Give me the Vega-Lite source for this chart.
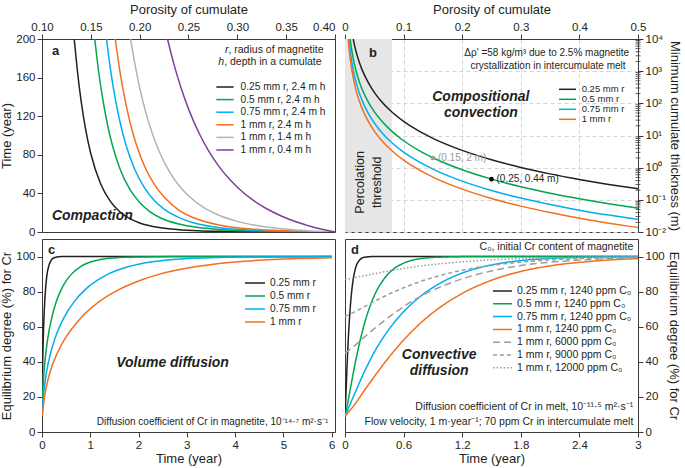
{
  "$schema": "https://vega.github.io/schema/vega-lite/v6.json",
  "background": "white",
  "padding": {"left": 0, "top": 2, "right": 1, "bottom": 2},
  "bounds": "flush",
  "columns": 2,
  "spacing": {"row": 7, "column": 10},
  "resolve": {"scale": {"color": "independent", "strokeDash": "independent"}, "legend": {"color": "independent", "strokeDash": "independent"}},
  "config": {
    "font": "Liberation Sans",
    "view": {"stroke": "#3c3c3c", "strokeWidth": 1},
    "axis": {
      "labelFontSize": 11.5, "titleFontSize": 13, "titleFontWeight": "normal",
      "labelFlush": false, "labelOverlap": false, "labelBound": false, "tickSize": 5, "labelPadding": 2,
      "titlePadding": 3, "domainColor": "#3c3c3c", "tickColor": "#3c3c3c",
      "labelColor": "#231f20", "titleColor": "#231f20", "grid": false
    },
    "legend": {"padding": 0, "labelFont": "Liberation Sans", "labelColor": "#231f20", "symbolType": "M-2,0H2", "title": null}
  },
  "datasets": {
    "a": [
      {"s": "0.25 mm r, 2.4 m h", "x": 0.133, "y": 200}, {"s": "0.25 mm r, 2.4 m h", "x": 0.136, "y": 169.2}, {"s": "0.25 mm r, 2.4 m h", "x": 0.14, "y": 136.1}, {"s": "0.25 mm r, 2.4 m h", "x": 0.145, "y": 104.6}, {"s": "0.25 mm r, 2.4 m h", "x": 0.15, "y": 81.1}, {"s": "0.25 mm r, 2.4 m h", "x": 0.16, "y": 50}, {"s": "0.25 mm r, 2.4 m h", "x": 0.17, "y": 31.7}, {"s": "0.25 mm r, 2.4 m h", "x": 0.18, "y": 20.7}, {"s": "0.25 mm r, 2.4 m h", "x": 0.19, "y": 13.8}, {"s": "0.25 mm r, 2.4 m h", "x": 0.2, "y": 9.4}, {"s": "0.25 mm r, 2.4 m h", "x": 0.22, "y": 4.6}, {"s": "0.25 mm r, 2.4 m h", "x": 0.24, "y": 2.4}, {"s": "0.25 mm r, 2.4 m h", "x": 0.26, "y": 1.3}, {"s": "0.25 mm r, 2.4 m h", "x": 0.28, "y": 0.75}, {"s": "0.25 mm r, 2.4 m h", "x": 0.3, "y": 0.45}, {"s": "0.25 mm r, 2.4 m h", "x": 0.33, "y": 0.22}, {"s": "0.25 mm r, 2.4 m h", "x": 0.36, "y": 0.11}, {"s": "0.25 mm r, 2.4 m h", "x": 0.4, "y": 0},
      {"s": "0.5 mm r, 2.4 m h", "x": 0.154, "y": 200}, {"s": "0.5 mm r, 2.4 m h", "x": 0.158, "y": 166.3}, {"s": "0.5 mm r, 2.4 m h", "x": 0.162, "y": 138.9}, {"s": "0.5 mm r, 2.4 m h", "x": 0.167, "y": 111.6}, {"s": "0.5 mm r, 2.4 m h", "x": 0.172, "y": 90.2}, {"s": "0.5 mm r, 2.4 m h", "x": 0.18, "y": 65.1}, {"s": "0.5 mm r, 2.4 m h", "x": 0.19, "y": 44.1}, {"s": "0.5 mm r, 2.4 m h", "x": 0.2, "y": 30.5}, {"s": "0.5 mm r, 2.4 m h", "x": 0.21, "y": 21.4}, {"s": "0.5 mm r, 2.4 m h", "x": 0.22, "y": 15.3}, {"s": "0.5 mm r, 2.4 m h", "x": 0.24, "y": 8.2}, {"s": "0.5 mm r, 2.4 m h", "x": 0.26, "y": 4.6}, {"s": "0.5 mm r, 2.4 m h", "x": 0.28, "y": 2.7}, {"s": "0.5 mm r, 2.4 m h", "x": 0.3, "y": 1.6}, {"s": "0.5 mm r, 2.4 m h", "x": 0.33, "y": 0.8}, {"s": "0.5 mm r, 2.4 m h", "x": 0.36, "y": 0.3}, {"s": "0.5 mm r, 2.4 m h", "x": 0.4, "y": 0},
      {"s": "0.75 mm r, 2.4 m h", "x": 0.166, "y": 200}, {"s": "0.75 mm r, 2.4 m h", "x": 0.17, "y": 169.3}, {"s": "0.75 mm r, 2.4 m h", "x": 0.175, "y": 138.2}, {"s": "0.75 mm r, 2.4 m h", "x": 0.18, "y": 113.5}, {"s": "0.75 mm r, 2.4 m h", "x": 0.186, "y": 90.2}, {"s": "0.75 mm r, 2.4 m h", "x": 0.195, "y": 64.8}, {"s": "0.75 mm r, 2.4 m h", "x": 0.205, "y": 45.7}, {"s": "0.75 mm r, 2.4 m h", "x": 0.215, "y": 32.7}, {"s": "0.75 mm r, 2.4 m h", "x": 0.225, "y": 23.8}, {"s": "0.75 mm r, 2.4 m h", "x": 0.24, "y": 15.1}, {"s": "0.75 mm r, 2.4 m h", "x": 0.26, "y": 8.2}, {"s": "0.75 mm r, 2.4 m h", "x": 0.28, "y": 4.7}, {"s": "0.75 mm r, 2.4 m h", "x": 0.3, "y": 2.8}, {"s": "0.75 mm r, 2.4 m h", "x": 0.33, "y": 1.2}, {"s": "0.75 mm r, 2.4 m h", "x": 0.36, "y": 0.5}, {"s": "0.75 mm r, 2.4 m h", "x": 0.4, "y": 0},
      {"s": "1 mm r, 2.4 m h", "x": 0.175, "y": 200}, {"s": "1 mm r, 2.4 m h", "x": 0.18, "y": 165.1}, {"s": "1 mm r, 2.4 m h", "x": 0.185, "y": 137.1}, {"s": "1 mm r, 2.4 m h", "x": 0.19, "y": 114.3}, {"s": "1 mm r, 2.4 m h", "x": 0.196, "y": 92.5}, {"s": "1 mm r, 2.4 m h", "x": 0.205, "y": 68.2}, {"s": "1 mm r, 2.4 m h", "x": 0.215, "y": 49.3}, {"s": "1 mm r, 2.4 m h", "x": 0.225, "y": 36.2}, {"s": "1 mm r, 2.4 m h", "x": 0.24, "y": 22.7}, {"s": "1 mm r, 2.4 m h", "x": 0.26, "y": 12.9}, {"s": "1 mm r, 2.4 m h", "x": 0.28, "y": 7.5}, {"s": "1 mm r, 2.4 m h", "x": 0.3, "y": 4.4}, {"s": "1 mm r, 2.4 m h", "x": 0.33, "y": 2.0}, {"s": "1 mm r, 2.4 m h", "x": 0.36, "y": 0.8}, {"s": "1 mm r, 2.4 m h", "x": 0.38, "y": 0.3}, {"s": "1 mm r, 2.4 m h", "x": 0.4, "y": 0},
      {"s": "1 mm r, 1.4 m h", "x": 0.1907, "y": 200}, {"s": "1 mm r, 1.4 m h", "x": 0.195, "y": 174.7}, {"s": "1 mm r, 1.4 m h", "x": 0.2, "y": 149.7}, {"s": "1 mm r, 1.4 m h", "x": 0.206, "y": 125}, {"s": "1 mm r, 1.4 m h", "x": 0.213, "y": 101.9}, {"s": "1 mm r, 1.4 m h", "x": 0.22, "y": 83.5}, {"s": "1 mm r, 1.4 m h", "x": 0.23, "y": 63.4}, {"s": "1 mm r, 1.4 m h", "x": 0.24, "y": 48.5}, {"s": "1 mm r, 1.4 m h", "x": 0.25, "y": 37.5}, {"s": "1 mm r, 1.4 m h", "x": 0.265, "y": 25.7}, {"s": "1 mm r, 1.4 m h", "x": 0.28, "y": 17.9}, {"s": "1 mm r, 1.4 m h", "x": 0.3, "y": 11}, {"s": "1 mm r, 1.4 m h", "x": 0.32, "y": 6.7}, {"s": "1 mm r, 1.4 m h", "x": 0.34, "y": 3.9}, {"s": "1 mm r, 1.4 m h", "x": 0.36, "y": 2.1}, {"s": "1 mm r, 1.4 m h", "x": 0.38, "y": 0.86}, {"s": "1 mm r, 1.4 m h", "x": 0.4, "y": 0},
      {"s": "1 mm r, 0.4 m h", "x": 0.2285, "y": 200}, {"s": "1 mm r, 0.4 m h", "x": 0.235, "y": 174.2}, {"s": "1 mm r, 0.4 m h", "x": 0.242, "y": 150.5}, {"s": "1 mm r, 0.4 m h", "x": 0.25, "y": 127.6}, {"s": "1 mm r, 0.4 m h", "x": 0.26, "y": 104.1}, {"s": "1 mm r, 0.4 m h", "x": 0.27, "y": 85.1}, {"s": "1 mm r, 0.4 m h", "x": 0.28, "y": 69.6}, {"s": "1 mm r, 0.4 m h", "x": 0.29, "y": 56.9}, {"s": "1 mm r, 0.4 m h", "x": 0.3, "y": 46.4}, {"s": "1 mm r, 0.4 m h", "x": 0.315, "y": 33.8}, {"s": "1 mm r, 0.4 m h", "x": 0.33, "y": 24.1}, {"s": "1 mm r, 0.4 m h", "x": 0.345, "y": 16.6}, {"s": "1 mm r, 0.4 m h", "x": 0.36, "y": 10.6}, {"s": "1 mm r, 0.4 m h", "x": 0.37, "y": 7.4}, {"s": "1 mm r, 0.4 m h", "x": 0.38, "y": 4.5}, {"s": "1 mm r, 0.4 m h", "x": 0.39, "y": 2.1}, {"s": "1 mm r, 0.4 m h", "x": 0.4, "y": 0}
    ],
    "b": [
      {"s": "0.25 mm r", "x": 0.01401, "y": 10000}, {"s": "0.25 mm r", "x": 0.016, "y": 6714}, {"s": "0.25 mm r", "x": 0.02, "y": 3438}, {"s": "0.25 mm r", "x": 0.025, "y": 1760}, {"s": "0.25 mm r", "x": 0.03, "y": 1018.5}, {"s": "0.25 mm r", "x": 0.04, "y": 429.7}, {"s": "0.25 mm r", "x": 0.05, "y": 220}, {"s": "0.25 mm r", "x": 0.06, "y": 127.3}, {"s": "0.25 mm r", "x": 0.08, "y": 53.7}, {"s": "0.25 mm r", "x": 0.1, "y": 27.5}, {"s": "0.25 mm r", "x": 0.125, "y": 14.08}, {"s": "0.25 mm r", "x": 0.15, "y": 8.148}, {"s": "0.25 mm r", "x": 0.2, "y": 3.4375}, {"s": "0.25 mm r", "x": 0.25, "y": 1.76}, {"s": "0.25 mm r", "x": 0.3, "y": 1.0185}, {"s": "0.25 mm r", "x": 0.35, "y": 0.6414}, {"s": "0.25 mm r", "x": 0.4, "y": 0.4297}, {"s": "0.25 mm r", "x": 0.45, "y": 0.3018}, {"s": "0.25 mm r", "x": 0.5, "y": 0.22},
      {"s": "0.5 mm r", "x": 0.00883, "y": 10000}, {"s": "0.5 mm r", "x": 0.01, "y": 6875}, {"s": "0.5 mm r", "x": 0.012, "y": 3979}, {"s": "0.5 mm r", "x": 0.016, "y": 1678.5}, {"s": "0.5 mm r", "x": 0.02, "y": 859.4}, {"s": "0.5 mm r", "x": 0.025, "y": 440}, {"s": "0.5 mm r", "x": 0.03, "y": 254.6}, {"s": "0.5 mm r", "x": 0.04, "y": 107.4}, {"s": "0.5 mm r", "x": 0.05, "y": 55}, {"s": "0.5 mm r", "x": 0.06, "y": 31.83}, {"s": "0.5 mm r", "x": 0.08, "y": 13.43}, {"s": "0.5 mm r", "x": 0.1, "y": 6.875}, {"s": "0.5 mm r", "x": 0.125, "y": 3.52}, {"s": "0.5 mm r", "x": 0.15, "y": 2.037}, {"s": "0.5 mm r", "x": 0.2, "y": 0.859}, {"s": "0.5 mm r", "x": 0.25, "y": 0.44}, {"s": "0.5 mm r", "x": 0.3, "y": 0.2546}, {"s": "0.5 mm r", "x": 0.35, "y": 0.1603}, {"s": "0.5 mm r", "x": 0.4, "y": 0.1074}, {"s": "0.5 mm r", "x": 0.45, "y": 0.0754}, {"s": "0.5 mm r", "x": 0.5, "y": 0.055},
      {"s": "0.75 mm r", "x": 0.00674, "y": 10000}, {"s": "0.75 mm r", "x": 0.008, "y": 5969}, {"s": "0.75 mm r", "x": 0.01, "y": 3056}, {"s": "0.75 mm r", "x": 0.012, "y": 1768.5}, {"s": "0.75 mm r", "x": 0.016, "y": 746}, {"s": "0.75 mm r", "x": 0.02, "y": 382}, {"s": "0.75 mm r", "x": 0.025, "y": 195.6}, {"s": "0.75 mm r", "x": 0.03, "y": 113.2}, {"s": "0.75 mm r", "x": 0.04, "y": 47.75}, {"s": "0.75 mm r", "x": 0.05, "y": 24.45}, {"s": "0.75 mm r", "x": 0.06, "y": 14.15}, {"s": "0.75 mm r", "x": 0.08, "y": 5.969}, {"s": "0.75 mm r", "x": 0.1, "y": 3.056}, {"s": "0.75 mm r", "x": 0.125, "y": 1.565}, {"s": "0.75 mm r", "x": 0.15, "y": 0.9055}, {"s": "0.75 mm r", "x": 0.2, "y": 0.382}, {"s": "0.75 mm r", "x": 0.25, "y": 0.1956}, {"s": "0.75 mm r", "x": 0.3, "y": 0.1132}, {"s": "0.75 mm r", "x": 0.35, "y": 0.0713}, {"s": "0.75 mm r", "x": 0.4, "y": 0.04775}, {"s": "0.75 mm r", "x": 0.45, "y": 0.03354}, {"s": "0.75 mm r", "x": 0.5, "y": 0.02445},
      {"s": "1 mm r", "x": 0.00556, "y": 10000}, {"s": "1 mm r", "x": 0.007, "y": 5012}, {"s": "1 mm r", "x": 0.008, "y": 3357}, {"s": "1 mm r", "x": 0.01, "y": 1719}, {"s": "1 mm r", "x": 0.012, "y": 994.8}, {"s": "1 mm r", "x": 0.016, "y": 419.7}, {"s": "1 mm r", "x": 0.02, "y": 214.9}, {"s": "1 mm r", "x": 0.025, "y": 110}, {"s": "1 mm r", "x": 0.03, "y": 63.67}, {"s": "1 mm r", "x": 0.04, "y": 26.86}, {"s": "1 mm r", "x": 0.05, "y": 13.75}, {"s": "1 mm r", "x": 0.06, "y": 7.958}, {"s": "1 mm r", "x": 0.08, "y": 3.357}, {"s": "1 mm r", "x": 0.1, "y": 1.719}, {"s": "1 mm r", "x": 0.125, "y": 0.88}, {"s": "1 mm r", "x": 0.15, "y": 0.5093}, {"s": "1 mm r", "x": 0.2, "y": 0.2149}, {"s": "1 mm r", "x": 0.25, "y": 0.11}, {"s": "1 mm r", "x": 0.3, "y": 0.0637}, {"s": "1 mm r", "x": 0.35, "y": 0.0401}, {"s": "1 mm r", "x": 0.4, "y": 0.02686}, {"s": "1 mm r", "x": 0.45, "y": 0.01886}, {"s": "1 mm r", "x": 0.5, "y": 0.01375}
    ],
    "minor": [
      {"v": 0.02}, {"v": 0.03}, {"v": 0.04}, {"v": 0.05}, {"v": 0.06}, {"v": 0.07}, {"v": 0.08}, {"v": 0.09},
      {"v": 0.2}, {"v": 0.3}, {"v": 0.4}, {"v": 0.5}, {"v": 0.6}, {"v": 0.7}, {"v": 0.8}, {"v": 0.9},
      {"v": 2}, {"v": 3}, {"v": 4}, {"v": 5}, {"v": 6}, {"v": 7}, {"v": 8}, {"v": 9},
      {"v": 20}, {"v": 30}, {"v": 40}, {"v": 50}, {"v": 60}, {"v": 70}, {"v": 80}, {"v": 90},
      {"v": 200}, {"v": 300}, {"v": 400}, {"v": 500}, {"v": 600}, {"v": 700}, {"v": 800}, {"v": 900},
      {"v": 2000}, {"v": 3000}, {"v": 4000}, {"v": 5000}, {"v": 6000}, {"v": 7000}, {"v": 8000}, {"v": 9000}
    ],
    "bpts": [
      {"x": 0.15, "y": 2, "label": "(0.15, 2 m)", "grp": "gray"},
      {"x": 0.25, "y": 0.44, "label": "(0.25, 0.44 m)", "grp": "black"}
    ],
    "perc": [{"lo": 0, "hi": 0.08}],
    "c": [
      {"s": "0.25 mm r", "x": 0.01, "y": 33.5}, {"s": "0.25 mm r", "x": 0.02, "y": 47}, {"s": "0.25 mm r", "x": 0.03, "y": 57}, {"s": "0.25 mm r", "x": 0.05, "y": 71}, {"s": "0.25 mm r", "x": 0.075, "y": 82}, {"s": "0.25 mm r", "x": 0.1, "y": 89}, {"s": "0.25 mm r", "x": 0.15, "y": 95.5}, {"s": "0.25 mm r", "x": 0.2, "y": 98.3}, {"s": "0.25 mm r", "x": 0.25, "y": 99.3}, {"s": "0.25 mm r", "x": 0.3, "y": 99.7}, {"s": "0.25 mm r", "x": 0.4, "y": 100}, {"s": "0.25 mm r", "x": 6, "y": 100},
      {"s": "0.5 mm r", "x": 0.01, "y": 17.6}, {"s": "0.5 mm r", "x": 0.02, "y": 24.4}, {"s": "0.5 mm r", "x": 0.04, "y": 33.5}, {"s": "0.5 mm r", "x": 0.08, "y": 45.2}, {"s": "0.5 mm r", "x": 0.12, "y": 53.4}, {"s": "0.5 mm r", "x": 0.2, "y": 64.9}, {"s": "0.5 mm r", "x": 0.3, "y": 74.6}, {"s": "0.5 mm r", "x": 0.4, "y": 81.3}, {"s": "0.5 mm r", "x": 0.5, "y": 86.1}, {"s": "0.5 mm r", "x": 0.6, "y": 89.7}, {"s": "0.5 mm r", "x": 0.8, "y": 94.3}, {"s": "0.5 mm r", "x": 1, "y": 96.9}, {"s": "0.5 mm r", "x": 1.2, "y": 98.3}, {"s": "0.5 mm r", "x": 1.6, "y": 99.5}, {"s": "0.5 mm r", "x": 2, "y": 99.8}, {"s": "0.5 mm r", "x": 2.4, "y": 99.95}, {"s": "0.5 mm r", "x": 3, "y": 100}, {"s": "0.5 mm r", "x": 6, "y": 100},
      {"s": "0.75 mm r", "x": 0.01, "y": 12.0}, {"s": "0.75 mm r", "x": 0.02, "y": 16.7}, {"s": "0.75 mm r", "x": 0.045, "y": 24.4}, {"s": "0.75 mm r", "x": 0.09, "y": 33.5}, {"s": "0.75 mm r", "x": 0.18, "y": 45.2}, {"s": "0.75 mm r", "x": 0.27, "y": 53.4}, {"s": "0.75 mm r", "x": 0.45, "y": 64.9}, {"s": "0.75 mm r", "x": 0.675, "y": 74.6}, {"s": "0.75 mm r", "x": 0.9, "y": 81.3}, {"s": "0.75 mm r", "x": 1.125, "y": 86.1}, {"s": "0.75 mm r", "x": 1.35, "y": 89.7}, {"s": "0.75 mm r", "x": 1.8, "y": 94.3}, {"s": "0.75 mm r", "x": 2.25, "y": 96.9}, {"s": "0.75 mm r", "x": 2.7, "y": 98.3}, {"s": "0.75 mm r", "x": 3.6, "y": 99.5}, {"s": "0.75 mm r", "x": 4.5, "y": 99.8}, {"s": "0.75 mm r", "x": 5.4, "y": 99.95}, {"s": "0.75 mm r", "x": 6, "y": 99.98},
      {"s": "1 mm r", "x": 0.01, "y": 9.0}, {"s": "1 mm r", "x": 0.02, "y": 12.7}, {"s": "1 mm r", "x": 0.04, "y": 17.6}, {"s": "1 mm r", "x": 0.08, "y": 24.4}, {"s": "1 mm r", "x": 0.16, "y": 33.5}, {"s": "1 mm r", "x": 0.32, "y": 45.2}, {"s": "1 mm r", "x": 0.48, "y": 53.4}, {"s": "1 mm r", "x": 0.8, "y": 64.9}, {"s": "1 mm r", "x": 1.2, "y": 74.6}, {"s": "1 mm r", "x": 1.6, "y": 81.3}, {"s": "1 mm r", "x": 2, "y": 86.1}, {"s": "1 mm r", "x": 2.4, "y": 89.7}, {"s": "1 mm r", "x": 3.2, "y": 94.3}, {"s": "1 mm r", "x": 4, "y": 96.9}, {"s": "1 mm r", "x": 4.8, "y": 98.3}, {"s": "1 mm r", "x": 6, "y": 99.3}
    ],
    "d": [
      {"s": "0.25 mm r, 1240 ppm C₀", "x": 0, "y": 9}, {"s": "0.25 mm r, 1240 ppm C₀", "x": 0.01, "y": 22.2}, {"s": "0.25 mm r, 1240 ppm C₀", "x": 0.02, "y": 36.3}, {"s": "0.25 mm r, 1240 ppm C₀", "x": 0.035, "y": 54.3}, {"s": "0.25 mm r, 1240 ppm C₀", "x": 0.05, "y": 68.1}, {"s": "0.25 mm r, 1240 ppm C₀", "x": 0.075, "y": 83.3}, {"s": "0.25 mm r, 1240 ppm C₀", "x": 0.1, "y": 91.6}, {"s": "0.25 mm r, 1240 ppm C₀", "x": 0.15, "y": 98}, {"s": "0.25 mm r, 1240 ppm C₀", "x": 0.2, "y": 99.6}, {"s": "0.25 mm r, 1240 ppm C₀", "x": 0.3, "y": 100}, {"s": "0.25 mm r, 1240 ppm C₀", "x": 3, "y": 100},
      {"s": "0.5 mm r, 1240 ppm C₀", "x": 0, "y": 9}, {"s": "0.5 mm r, 1240 ppm C₀", "x": 0.025, "y": 15.6}, {"s": "0.5 mm r, 1240 ppm C₀", "x": 0.05, "y": 23.2}, {"s": "0.5 mm r, 1240 ppm C₀", "x": 0.1, "y": 38}, {"s": "0.5 mm r, 1240 ppm C₀", "x": 0.15, "y": 51}, {"s": "0.5 mm r, 1240 ppm C₀", "x": 0.2, "y": 61.9}, {"s": "0.5 mm r, 1240 ppm C₀", "x": 0.3, "y": 77.7}, {"s": "0.5 mm r, 1240 ppm C₀", "x": 0.4, "y": 87.3}, {"s": "0.5 mm r, 1240 ppm C₀", "x": 0.5, "y": 93}, {"s": "0.5 mm r, 1240 ppm C₀", "x": 0.6, "y": 96.2}, {"s": "0.5 mm r, 1240 ppm C₀", "x": 0.8, "y": 99}, {"s": "0.5 mm r, 1240 ppm C₀", "x": 1, "y": 99.7}, {"s": "0.5 mm r, 1240 ppm C₀", "x": 1.3, "y": 100}, {"s": "0.5 mm r, 1240 ppm C₀", "x": 3, "y": 100},
      {"s": "0.75 mm r, 1240 ppm C₀", "x": 0, "y": 9}, {"s": "0.75 mm r, 1240 ppm C₀", "x": 0.05, "y": 15.5}, {"s": "0.75 mm r, 1240 ppm C₀", "x": 0.1, "y": 22}, {"s": "0.75 mm r, 1240 ppm C₀", "x": 0.2, "y": 34.5}, {"s": "0.75 mm r, 1240 ppm C₀", "x": 0.3, "y": 45.5}, {"s": "0.75 mm r, 1240 ppm C₀", "x": 0.45, "y": 58.5}, {"s": "0.75 mm r, 1240 ppm C₀", "x": 0.6, "y": 68.5}, {"s": "0.75 mm r, 1240 ppm C₀", "x": 0.8, "y": 78.5}, {"s": "0.75 mm r, 1240 ppm C₀", "x": 1, "y": 85.6}, {"s": "0.75 mm r, 1240 ppm C₀", "x": 1.2, "y": 90.6}, {"s": "0.75 mm r, 1240 ppm C₀", "x": 1.5, "y": 95.2}, {"s": "0.75 mm r, 1240 ppm C₀", "x": 1.8, "y": 97.7}, {"s": "0.75 mm r, 1240 ppm C₀", "x": 2.1, "y": 98.9}, {"s": "0.75 mm r, 1240 ppm C₀", "x": 2.4, "y": 99.5}, {"s": "0.75 mm r, 1240 ppm C₀", "x": 3, "y": 99.9},
      {"s": "1 mm r, 1240 ppm C₀", "x": 0, "y": 9}, {"s": "1 mm r, 1240 ppm C₀", "x": 0.1, "y": 15.8}, {"s": "1 mm r, 1240 ppm C₀", "x": 0.2, "y": 23.8}, {"s": "1 mm r, 1240 ppm C₀", "x": 0.3, "y": 31.6}, {"s": "1 mm r, 1240 ppm C₀", "x": 0.45, "y": 42.6}, {"s": "1 mm r, 1240 ppm C₀", "x": 0.6, "y": 52.4}, {"s": "1 mm r, 1240 ppm C₀", "x": 0.8, "y": 63.4}, {"s": "1 mm r, 1240 ppm C₀", "x": 1, "y": 72.1}, {"s": "1 mm r, 1240 ppm C₀", "x": 1.2, "y": 79}, {"s": "1 mm r, 1240 ppm C₀", "x": 1.5, "y": 86.5}, {"s": "1 mm r, 1240 ppm C₀", "x": 1.8, "y": 91.5}, {"s": "1 mm r, 1240 ppm C₀", "x": 2.1, "y": 94.7}, {"s": "1 mm r, 1240 ppm C₀", "x": 2.4, "y": 96.7}, {"s": "1 mm r, 1240 ppm C₀", "x": 2.7, "y": 98}, {"s": "1 mm r, 1240 ppm C₀", "x": 3, "y": 98.8},
      {"s": "1 mm r, 6000 ppm C₀", "x": 0, "y": 45}, {"s": "1 mm r, 6000 ppm C₀", "x": 0.1, "y": 49.3}, {"s": "1 mm r, 6000 ppm C₀", "x": 0.2, "y": 54.2}, {"s": "1 mm r, 6000 ppm C₀", "x": 0.3, "y": 58.9}, {"s": "1 mm r, 6000 ppm C₀", "x": 0.45, "y": 65.5}, {"s": "1 mm r, 6000 ppm C₀", "x": 0.6, "y": 71.5}, {"s": "1 mm r, 6000 ppm C₀", "x": 0.8, "y": 78.1}, {"s": "1 mm r, 6000 ppm C₀", "x": 1, "y": 83.2}, {"s": "1 mm r, 6000 ppm C₀", "x": 1.2, "y": 87.3}, {"s": "1 mm r, 6000 ppm C₀", "x": 1.5, "y": 91.8}, {"s": "1 mm r, 6000 ppm C₀", "x": 1.8, "y": 94.9}, {"s": "1 mm r, 6000 ppm C₀", "x": 2.1, "y": 96.8}, {"s": "1 mm r, 6000 ppm C₀", "x": 2.4, "y": 98.0}, {"s": "1 mm r, 6000 ppm C₀", "x": 2.7, "y": 98.8}, {"s": "1 mm r, 6000 ppm C₀", "x": 3, "y": 99.3},
      {"s": "1 mm r, 9000 ppm C₀", "x": 0, "y": 66}, {"s": "1 mm r, 9000 ppm C₀", "x": 0.1, "y": 68.5}, {"s": "1 mm r, 9000 ppm C₀", "x": 0.2, "y": 71.5}, {"s": "1 mm r, 9000 ppm C₀", "x": 0.3, "y": 74.4}, {"s": "1 mm r, 9000 ppm C₀", "x": 0.45, "y": 78.6}, {"s": "1 mm r, 9000 ppm C₀", "x": 0.6, "y": 82.2}, {"s": "1 mm r, 9000 ppm C₀", "x": 0.8, "y": 86.3}, {"s": "1 mm r, 9000 ppm C₀", "x": 1, "y": 89.6}, {"s": "1 mm r, 9000 ppm C₀", "x": 1.2, "y": 92.2}, {"s": "1 mm r, 9000 ppm C₀", "x": 1.5, "y": 95.0}, {"s": "1 mm r, 9000 ppm C₀", "x": 1.8, "y": 96.8}, {"s": "1 mm r, 9000 ppm C₀", "x": 2.1, "y": 98.0}, {"s": "1 mm r, 9000 ppm C₀", "x": 2.4, "y": 98.8}, {"s": "1 mm r, 9000 ppm C₀", "x": 2.7, "y": 99.3}, {"s": "1 mm r, 9000 ppm C₀", "x": 3, "y": 99.6},
      {"s": "1 mm r, 12000 ppm C₀", "x": 0, "y": 87}, {"s": "1 mm r, 12000 ppm C₀", "x": 0.1, "y": 88}, {"s": "1 mm r, 12000 ppm C₀", "x": 0.2, "y": 89.1}, {"s": "1 mm r, 12000 ppm C₀", "x": 0.3, "y": 90.2}, {"s": "1 mm r, 12000 ppm C₀", "x": 0.45, "y": 91.8}, {"s": "1 mm r, 12000 ppm C₀", "x": 0.6, "y": 93.2}, {"s": "1 mm r, 12000 ppm C₀", "x": 0.8, "y": 94.8}, {"s": "1 mm r, 12000 ppm C₀", "x": 1, "y": 96}, {"s": "1 mm r, 12000 ppm C₀", "x": 1.2, "y": 97}, {"s": "1 mm r, 12000 ppm C₀", "x": 1.5, "y": 98.1}, {"s": "1 mm r, 12000 ppm C₀", "x": 1.8, "y": 98.8}, {"s": "1 mm r, 12000 ppm C₀", "x": 2.1, "y": 99.2}, {"s": "1 mm r, 12000 ppm C₀", "x": 2.4, "y": 99.5}, {"s": "1 mm r, 12000 ppm C₀", "x": 2.7, "y": 99.7}, {"s": "1 mm r, 12000 ppm C₀", "x": 3, "y": 99.8}
    ]
  },
  "concat": [
    {
      "width": 293, "height": 193,
      "layer": [
        {
          "data": {"name": "a"},
          "mark": {"type": "line", "strokeWidth": 1.5, "clip": true, "interpolate": "monotone"},
          "encoding": {
            "x": {"field": "x", "type": "quantitative", "scale": {"domain": [0.1, 0.4], "nice": false, "zero": false},
                  "axis": {"orient": "top", "title": "Porosity of cumulate", "values": [0.1, 0.15, 0.2, 0.25, 0.3, 0.35, 0.4], "tickCount": 12, "format": ".2f", "titlePadding": 5, "labelOverlap": false,
                           "labelAlign": {"condition": {"test": "datum.value > 0.39", "value": "right"}, "value": "center"}}},
            "y": {"field": "y", "type": "quantitative", "scale": {"domain": [0, 200], "nice": false},
                  "axis": {"title": "Time (year)", "values": [0, 40, 80, 120, 160, 200], "tickCount": 12, "format": "d", "titlePadding": 2, "labelOverlap": false}},
            "color": {"field": "s", "type": "nominal",
                      "scale": {"domain": ["0.25 mm r, 2.4 m h", "0.5 mm r, 2.4 m h", "0.75 mm r, 2.4 m h", "1 mm r, 2.4 m h", "1 mm r, 1.4 m h", "1 mm r, 0.4 m h"],
                                "range": ["#231f20", "#00a651", "#00aeef", "#f26f21", "#b1b3b5", "#7f3f98"]},
                      "legend": {"orient": "none", "legendX": 177.5, "legendY": 42.5, "symbolSize": 75, "symbolStrokeWidth": 1.5, "labelFontSize": 10.2, "rowPadding": 1.6, "labelOffset": 10}}
          }
        },
        {"data": {"values": [{}]}, "mark": {"type": "text", "text": "a", "fontWeight": "bold", "fontSize": 13, "align": "left", "baseline": "middle", "color": "#231f20"},
         "encoding": {"x": {"datum": 0.1102}, "y": {"datum": 187.6}}},
        {"data": {"values": [{}]}, "mark": {"type": "text", "text": "r", "fontSize": 10.5, "fontStyle": "italic", "align": "left", "baseline": "middle", "color": "#231f20"},
         "encoding": {"x": {"datum": 0.2873}, "y": {"datum": 188.6}}},
        {"data": {"values": [{}]}, "mark": {"type": "text", "text": ", radius of magnetite", "fontSize": 10.5, "align": "left", "baseline": "middle", "color": "#231f20"},
         "encoding": {"x": {"datum": 0.2909}, "y": {"datum": 188.6}}},
        {"data": {"values": [{}]}, "mark": {"type": "text", "text": "h", "fontSize": 10.5, "fontStyle": "italic", "align": "left", "baseline": "middle", "color": "#231f20"},
         "encoding": {"x": {"datum": 0.2805}, "y": {"datum": 176.2}}},
        {"data": {"values": [{}]}, "mark": {"type": "text", "text": ", depth in a cumulate", "fontSize": 10.5, "align": "left", "baseline": "middle", "color": "#231f20"},
         "encoding": {"x": {"datum": 0.2865}, "y": {"datum": 176.2}}},
        {"data": {"values": [{}]}, "mark": {"type": "text", "text": "Compaction", "fontSize": 14, "fontWeight": "bold", "fontStyle": "italic", "align": "left", "baseline": "middle", "color": "#231f20"},
         "encoding": {"x": {"datum": 0.1102}, "y": {"datum": 16.6}}}
      ]
    },
    {
      "width": 293, "height": 193,
      "layer": [
        {
          "data": {"name": "perc"},
          "mark": {"type": "rect", "color": "#e6e6e6"},
          "encoding": {
            "x": {"field": "lo", "type": "quantitative", "scale": {"domain": [0, 0.5], "nice": false},
                  "axis": {"orient": "top", "title": "Porosity of cumulate", "values": [0, 0.1, 0.2, 0.3, 0.4, 0.5], "tickCount": 12, "labelExpr": "datum.value == 0 ? '0' : format(datum.value, '.1f')", "titlePadding": 5, "labelOverlap": false, "grid": true, "gridDash": [4, 3], "gridColor": "#d4d4d4"}},
            "x2": {"field": "hi"},
            "y": {"datum": 0.01, "type": "quantitative", "scale": {"type": "log", "domain": [0.01, 10000], "nice": false},
                  "axis": {"orient": "right", "title": "Minimum cumulate thickness (m)", "values": [0.01, 0.1, 1, 10, 100, 1000, 10000], "tickCount": 12, "titlePadding": 2, "labelOverlap": false, "grid": true, "gridDash": [4, 3], "gridColor": "#d4d4d4",
                           "labelExpr": "datum.value > 5000 ? '10⁴' : datum.value > 500 ? '10³' : datum.value > 50 ? '10²' : datum.value > 5 ? '10¹' : datum.value > 0.5 ? '10⁰' : datum.value > 0.05 ? '10⁻¹' : '10⁻²'"}},
            "y2": {"datum": 10000}
          }
        },
        {
          "data": {"name": "minor"},
          "mark": {"type": "tick", "orient": "horizontal", "size": 5, "thickness": 0.8, "color": "#3c3c3c", "opacity": 1},
          "encoding": {"x": {"datum": 0.5}, "y": {"field": "v", "type": "quantitative"}}
        },
        {
          "data": {"name": "b"},
          "mark": {"type": "line", "strokeWidth": 1.5, "clip": true, "interpolate": "monotone"},
          "encoding": {
            "x": {"field": "x", "type": "quantitative"},
            "y": {"field": "y", "type": "quantitative"},
            "color": {"field": "s", "type": "nominal",
                      "scale": {"domain": ["0.25 mm r", "0.5 mm r", "0.75 mm r", "1 mm r"], "range": ["#231f20", "#00a651", "#00aeef", "#f26f21"]},
                      "legend": {"orient": "none", "legendX": 217.5, "legendY": 45.3, "symbolSize": 72, "symbolStrokeWidth": 1.5, "labelFontSize": 9.5, "rowPadding": 0, "labelOffset": 9.2}}
          }
        },
        {"data": {"name": "bpts"}, "transform": [{"filter": "datum.grp == 'gray'"}],
         "mark": {"type": "point", "filled": true, "size": 22, "color": "#9a9a9a", "opacity": 1},
         "encoding": {"x": {"field": "x", "type": "quantitative"}, "y": {"field": "y", "type": "quantitative"}}},
        {"data": {"name": "bpts"}, "transform": [{"filter": "datum.grp == 'gray'"}],
         "mark": {"type": "text", "fontSize": 10, "align": "left", "baseline": "middle", "dx": 5, "color": "#9a9a9a"},
         "encoding": {"x": {"field": "x", "type": "quantitative"}, "y": {"field": "y", "type": "quantitative"}, "text": {"field": "label"}}},
        {"data": {"name": "bpts"}, "transform": [{"filter": "datum.grp == 'black'"}],
         "mark": {"type": "point", "filled": true, "size": 22, "color": "#000000", "opacity": 1},
         "encoding": {"x": {"field": "x", "type": "quantitative"}, "y": {"field": "y", "type": "quantitative"}}},
        {"data": {"name": "bpts"}, "transform": [{"filter": "datum.grp == 'black'"}],
         "mark": {"type": "text", "fontSize": 10, "align": "left", "baseline": "middle", "dx": 5, "color": "#231f20"},
         "encoding": {"x": {"field": "x", "type": "quantitative"}, "y": {"field": "y", "type": "quantitative"}, "text": {"field": "label"}}},
        {"data": {"values": [{}]}, "mark": {"type": "text", "text": "b", "fontWeight": "bold", "fontSize": 13, "align": "center", "baseline": "middle", "color": "#231f20"},
         "encoding": {"x": {"datum": 0.0478}, "y": {"datum": 3672}}},
        {"data": {"values": [{}]}, "mark": {"type": "text", "text": "Δρ' =58 kg/m³ due to 2.5% magnetite", "fontSize": 10, "align": "center", "baseline": "middle", "color": "#231f20"},
         "encoding": {"x": {"datum": 0.3442}, "y": {"datum": 3596}}},
        {"data": {"values": [{}]}, "mark": {"type": "text", "text": "crystallization in intercumulate melt", "fontSize": 10, "align": "center", "baseline": "middle", "color": "#231f20"},
         "encoding": {"x": {"datum": 0.3464}, "y": {"datum": 1479}}},
        {"data": {"values": [{}]}, "mark": {"type": "text", "text": "Compositional", "fontSize": 14, "fontWeight": "bold", "fontStyle": "italic", "align": "center", "baseline": "middle", "color": "#231f20"},
         "encoding": {"x": {"datum": 0.2318}, "y": {"datum": 161}}},
        {"data": {"values": [{}]}, "mark": {"type": "text", "text": "convection", "fontSize": 14, "fontWeight": "bold", "fontStyle": "italic", "align": "center", "baseline": "middle", "color": "#231f20"},
         "encoding": {"x": {"datum": 0.2318}, "y": {"datum": 51}}},
        {"data": {"values": [{}]}, "mark": {"type": "text", "text": "Percolation", "fontSize": 12.5, "angle": 270, "align": "center", "baseline": "middle", "color": "#231f20"},
         "encoding": {"x": {"datum": 0.0256}, "y": {"datum": 0.349}}},
        {"data": {"values": [{}]}, "mark": {"type": "text", "text": "threshold", "fontSize": 12.5, "angle": 270, "align": "center", "baseline": "middle", "color": "#231f20"},
         "encoding": {"x": {"datum": 0.0541}, "y": {"datum": 0.349}}}
      ]
    },
    {
      "width": 293, "height": 193,
      "layer": [
        {
          "data": {"name": "c"},
          "mark": {"type": "line", "strokeWidth": 1.5, "clip": true, "interpolate": "monotone"},
          "encoding": {
            "x": {"field": "x", "type": "quantitative", "scale": {"domain": [0, 6.07], "nice": false},
                  "axis": {"title": "Time (year)", "values": [0, 1, 2, 3, 4, 5, 6], "tickCount": 12, "format": "d", "titlePadding": 2, "labelOverlap": false}},
            "y": {"field": "y", "type": "quantitative", "scale": {"domain": [0, 110], "nice": false},
                  "axis": {"title": "Equilibrium degree (%) for Cr", "values": [0, 20, 40, 60, 80, 100], "tickCount": 12, "format": "d", "titlePadding": 2, "labelOverlap": false}},
            "color": {"field": "s", "type": "nominal",
                      "scale": {"domain": ["0.25 mm r", "0.5 mm r", "0.75 mm r", "1 mm r"], "range": ["#231f20", "#00a651", "#00aeef", "#f26f21"]},
                      "legend": {"orient": "none", "legendX": 207, "legendY": 38, "symbolSize": 100, "symbolStrokeWidth": 1.5, "labelFontSize": 10.2, "rowPadding": 1, "labelOffset": 9}}
          }
        },
        {"data": {"values": [{}]}, "mark": {"type": "text", "text": "c", "fontWeight": "bold", "fontSize": 13, "align": "center", "baseline": "middle", "color": "#231f20"},
         "encoding": {"x": {"datum": 0.2}, "y": {"datum": 104}}},
        {"data": {"values": [{}]}, "mark": {"type": "text", "text": "Volume diffusion", "fontSize": 14, "fontWeight": "bold", "fontStyle": "italic", "align": "center", "baseline": "middle", "color": "#231f20"},
         "encoding": {"x": {"datum": 2.704}, "y": {"datum": 39.2}}},
        {"data": {"values": [{}]}, "mark": {"type": "text", "text": "Diffusion coefficient of Cr in magnetite, 10⁻¹⁴·⁷ m²·s⁻¹", "fontSize": 10, "align": "right", "baseline": "middle", "color": "#231f20"},
         "encoding": {"x": {"datum": 5.93}, "y": {"datum": 5.9}}}
      ]
    },
    {
      "width": 293, "height": 193,
      "layer": [
        {
          "data": {"name": "d"},
          "mark": {"type": "line", "strokeWidth": 1.5, "clip": true, "interpolate": "monotone"},
          "encoding": {
            "x": {"field": "x", "type": "quantitative", "scale": {"domain": [0, 3], "nice": false},
                  "axis": {"title": "Time (year)", "values": [0, 0.6, 1.2, 1.8, 2.4, 3], "tickCount": 12, "labelExpr": "datum.value == 0 ? '0' : datum.value == 3 ? '3' : format(datum.value, '.1f')", "titlePadding": 2, "labelOverlap": false}},
            "y": {"field": "y", "type": "quantitative", "scale": {"domain": [0, 110], "nice": false},
                  "axis": {"orient": "right", "title": "Equilibrium degree (%) for Cr", "values": [0, 20, 40, 60, 80, 100], "tickCount": 12, "format": "d", "titlePadding": 2, "labelOverlap": false}},
            "color": {"field": "s", "type": "nominal",
                      "scale": {"domain": ["0.25 mm r, 1240 ppm C₀", "0.5 mm r, 1240 ppm C₀", "0.75 mm r, 1240 ppm C₀", "1 mm r, 1240 ppm C₀", "1 mm r, 6000 ppm C₀", "1 mm r, 9000 ppm C₀", "1 mm r, 12000 ppm C₀"],
                                "range": ["#231f20", "#00a651", "#00aeef", "#f26f21", "#9d9d9d", "#9d9d9d", "#9d9d9d"]},
                      "legend": {"orient": "none", "legendX": 152, "legendY": 46.5, "symbolSize": 90, "symbolStrokeWidth": 1.5, "labelFontSize": 10.5, "rowPadding": 1.8, "labelOffset": 9}},
            "strokeDash": {"field": "s", "type": "nominal",
                      "scale": {"domain": ["0.25 mm r, 1240 ppm C₀", "0.5 mm r, 1240 ppm C₀", "0.75 mm r, 1240 ppm C₀", "1 mm r, 1240 ppm C₀", "1 mm r, 6000 ppm C₀", "1 mm r, 9000 ppm C₀", "1 mm r, 12000 ppm C₀"],
                                "range": [[1, 0], [1, 0], [1, 0], [1, 0], [7, 4], [4, 3], [1.5, 2]]}}
          }
        },
        {"data": {"values": [{}]}, "mark": {"type": "text", "text": "d", "fontWeight": "bold", "fontSize": 13, "align": "center", "baseline": "middle", "color": "#231f20"},
         "encoding": {"x": {"datum": 0.102}, "y": {"datum": 104}}},
        {"data": {"values": [{}]}, "mark": {"type": "text", "text": "C₀, initial Cr content of magnetite", "fontSize": 10.5, "align": "right", "baseline": "middle", "color": "#231f20"},
         "encoding": {"x": {"datum": 2.952}, "y": {"datum": 105.4}}},
        {"data": {"values": [{}]}, "mark": {"type": "text", "text": "Convective", "fontSize": 14, "fontWeight": "bold", "fontStyle": "italic", "align": "center", "baseline": "middle", "color": "#231f20"},
         "encoding": {"x": {"datum": 0.9645}, "y": {"datum": 43.9}}},
        {"data": {"values": [{}]}, "mark": {"type": "text", "text": "diffusion", "fontSize": 14, "fontWeight": "bold", "fontStyle": "italic", "align": "center", "baseline": "middle", "color": "#231f20"},
         "encoding": {"x": {"datum": 0.9645}, "y": {"datum": 34.5}}},
        {"data": {"values": [{}]}, "mark": {"type": "text", "text": "Diffusion coefficient of Cr in melt, 10⁻¹¹·⁵ m²·s⁻¹", "fontSize": 10.5, "align": "right", "baseline": "middle", "color": "#231f20"},
         "encoding": {"x": {"datum": 2.952}, "y": {"datum": 14.5}}},
        {"data": {"values": [{}]}, "mark": {"type": "text", "text": "Flow velocity, 1 m·year⁻¹; 70 ppm Cr in intercumulate melt", "fontSize": 10.5, "align": "right", "baseline": "middle", "color": "#231f20"},
         "encoding": {"x": {"datum": 2.952}, "y": {"datum": 5.9}}}
      ]
    }
  ]
}
